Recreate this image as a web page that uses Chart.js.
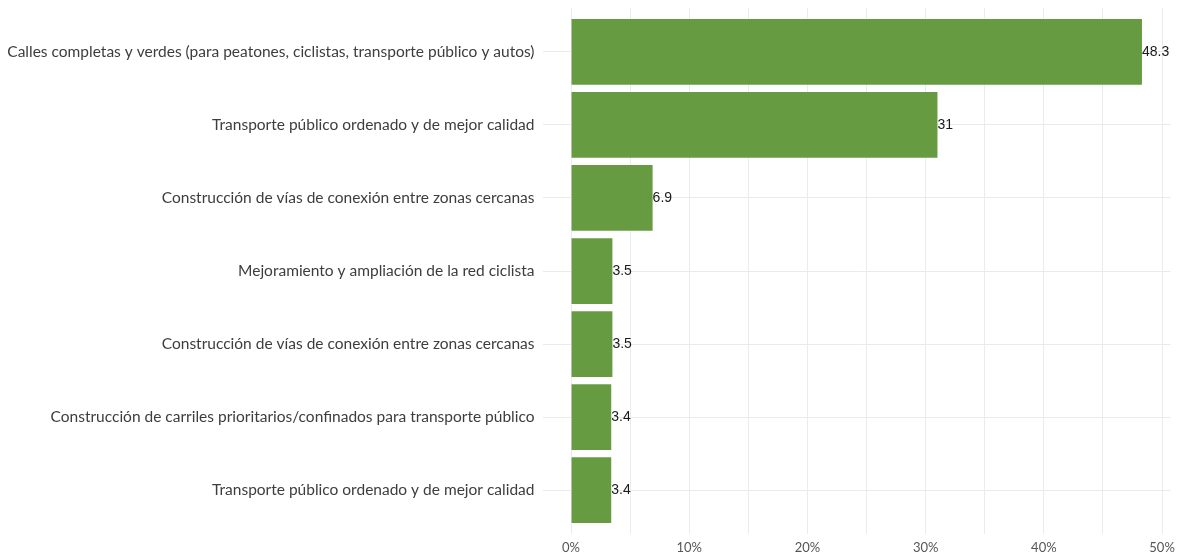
<!DOCTYPE html>
<html>
<head>
<meta charset="utf-8">
<script src="https://cdn.jsdelivr.net/npm/chart.js@4/dist/chart.umd.min.js"></script>
<style>
  html, body { margin: 0; padding: 0; background: #fff; }
  #wrap { width: 1182px; height: 556px; }
</style>
</head>
<body>
<div id="wrap"><canvas id="chart" width="1182" height="556"></canvas></div>
<script>
// Data
const categories = [
  'Calles completas y verdes (para peatones, ciclistas, transporte público y autos)',
  'Transporte público ordenado y de mejor calidad',
  'Construcción de vías de conexión entre zonas cercanas',
  'Mejoramiento y ampliación de la red ciclista',
  'Construcción de vías de conexión entre zonas cercanas',
  'Construcción de carriles prioritarios/confinados para transporte público',
  'Transporte público ordenado y de mejor calidad'
];
const values = [48.3, 31, 6.9, 3.5, 3.5, 3.4, 3.4];
const xTicks = [0, 5, 10, 15, 20, 25, 30, 35, 40, 45, 50];

const labelFont = "'Lato', 'Open Sans', sans-serif";

// value labels at bar ends
const barLabels = {
  id: 'barLabels',
  afterDatasetsDraw(chart) {
    const ctx = chart.ctx;
    const meta = chart.getDatasetMeta(0);
    ctx.save();
    ctx.font = "14px 'Liberation Sans', Arial, sans-serif";
    ctx.fillStyle = '#1a1a1a';
    ctx.textAlign = 'left';
    ctx.textBaseline = 'middle';
    meta.data.forEach((bar, i) => {
      ctx.fillText(String(values[i]), bar.x, bar.y);
    });
    ctx.restore();
  }
};

new Chart(document.getElementById('chart'), {
  type: 'bar',
  data: {
    datasets: [{
      data: values.map((v, i) => ({ x: v, y: i + 1 })),
      backgroundColor: '#679b41',
      borderWidth: 0,
      categoryPercentage: 1,
      barPercentage: 0.9
    }]
  },
  options: {
    indexAxis: 'y',
    responsive: false,
    animation: false,
    layout: { padding: { top: 8, right: 11.5, left: 0, bottom: 0 } },
    plugins: { legend: { display: false }, tooltip: { enabled: false } },
    scales: {
      x: {
        type: 'linear',
        min: -2.415,
        max: 50.715,
        afterBuildTicks: (axis) => { axis.ticks = xTicks.map((v) => ({ value: v })); },
        afterFit: (axis) => {
          axis.height = 22;
          axis.paddingLeft = 0;
          axis.paddingRight = 0;
        },
        border: { display: false },
        grid: { color: '#ebebeb', lineWidth: 1, drawTicks: false },
        ticks: {
          padding: 6,
          color: '#555555',
          font: { family: labelFont, size: 13 },
          callback: (v) => (v % 10 === 0 ? v + '%' : '')
        }
      },
      y: {
        type: 'linear',
        reverse: true,
        offset: false,
        min: 0.4,
        max: 7.6,
        afterBuildTicks: (axis) => { axis.ticks = categories.map((c, i) => ({ value: i + 1 })); },
        afterFit: (axis) => {
          axis.width = 542.5;
          axis.paddingTop = 0;
          axis.paddingBottom = 0;
        },
        border: { display: false },
        grid: { color: '#ebebeb', lineWidth: 1, drawTicks: false, offset: false },
        ticks: {
          padding: 8,
          color: '#3d3d3d',
          font: { family: labelFont, size: 15.5 },
          callback: (v) => categories[v - 1]
        }
      }
    }
  },
  plugins: [barLabels]
});
</script>
</body>
</html>
